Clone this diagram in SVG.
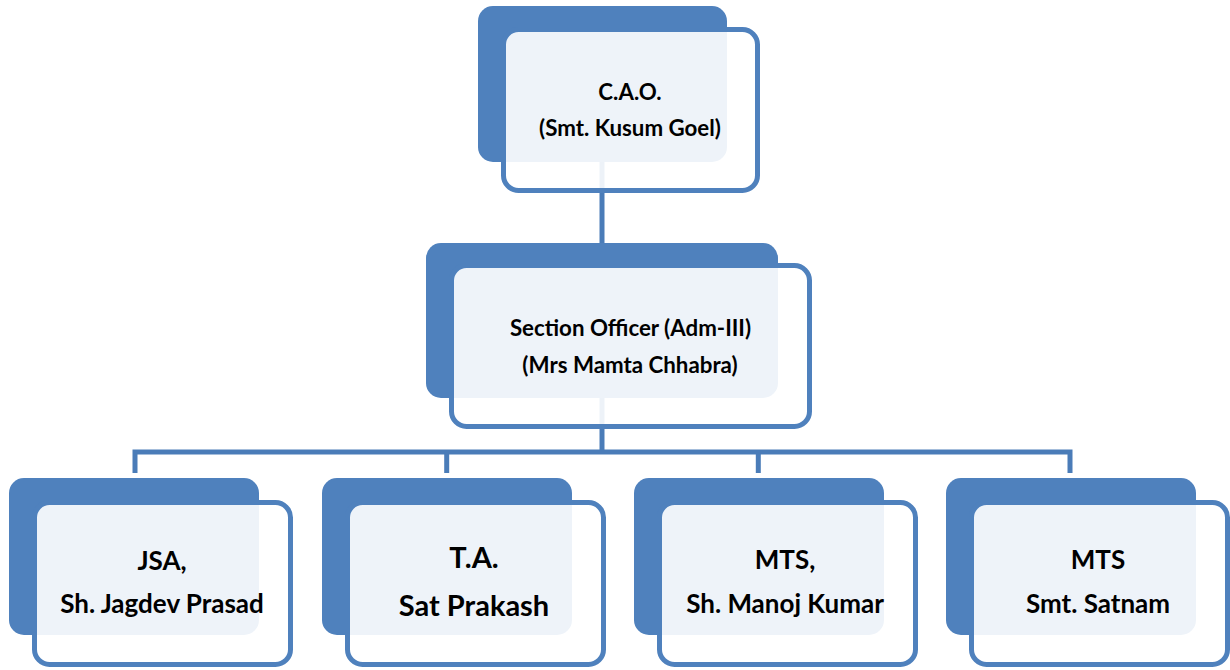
<svg xmlns="http://www.w3.org/2000/svg" width="1230" height="670" viewBox="0 0 1230 670">
<style>
.back{fill:#4F81BD}
.front{fill:#FFFFFF;fill-opacity:0.9;stroke:#4F81BD;stroke-width:5}
.conn{fill:none;stroke:#4A7CB8;stroke-width:5}
text{font-family:Lato,"Liberation Sans",sans-serif;font-weight:700;fill:#000;text-anchor:middle}
.t1{font-size:22.3px}
.t3{font-size:26px}
.t3b{font-size:29px}
</style>
<rect width="1230" height="670" fill="#FFFFFF"/>
<g id="connectors">
<line class="conn" x1="602" y1="100" x2="602" y2="300"/>
<line class="conn" x1="602" y1="330" x2="602" y2="452"/>
<polyline class="conn" points="135,473 135,452 1070,452 1070,473"/>
<line class="conn" x1="446.7" y1="452" x2="446.7" y2="473"/>
<line class="conn" x1="758.3" y1="452" x2="758.3" y2="473"/>
</g>
<g id="node-cao">
<rect class="back" x="478" y="6" width="249" height="156" rx="15"/>
<rect class="front" x="503.5" y="29.5" width="254" height="161" rx="15"/>
<text class="t1" x="630" y="100">C.A.O.</text>
<text class="t1" x="630" y="136">(Smt. Kusum Goel)</text>
</g>
<g id="node-so">
<rect class="back" x="426" y="243" width="352" height="155" rx="15"/>
<rect class="front" x="451.5" y="265.5" width="358" height="161" rx="15"/>
<text class="t1" x="630.5" y="336">Section Officer (Adm-III)</text>
<text class="t1" x="630" y="373">(Mrs Mamta Chhabra)</text>
</g>
<g id="node-jsa">
<rect class="back" x="9" y="478" width="250" height="157" rx="15"/>
<rect class="front" x="34.5" y="502.5" width="256" height="162" rx="15"/>
<text class="t3" x="162" y="570">JSA,</text>
<text class="t3" x="162" y="613">Sh. Jagdev Prasad</text>
</g>
<g id="node-ta">
<rect class="back" x="322" y="478" width="250" height="157" rx="15"/>
<rect class="front" x="347.5" y="502.5" width="256" height="162" rx="15"/>
<text class="t3b" x="474" y="568">T.A.</text>
<text class="t3b" x="474" y="616">Sat Prakash</text>
</g>
<g id="node-mts1">
<rect class="back" x="634" y="478" width="250" height="157" rx="15"/>
<rect class="front" x="659.5" y="502.5" width="256" height="162" rx="15"/>
<text class="t3" x="785" y="569">MTS,</text>
<text class="t3" x="785" y="613">Sh. Manoj Kumar</text>
</g>
<g id="node-mts2">
<rect class="back" x="946" y="478" width="250" height="157" rx="15"/>
<rect class="front" x="971.5" y="502.5" width="256" height="162" rx="15"/>
<text class="t3" x="1098" y="569">MTS</text>
<text class="t3" x="1098" y="613">Smt. Satnam</text>
</g>
</svg>
